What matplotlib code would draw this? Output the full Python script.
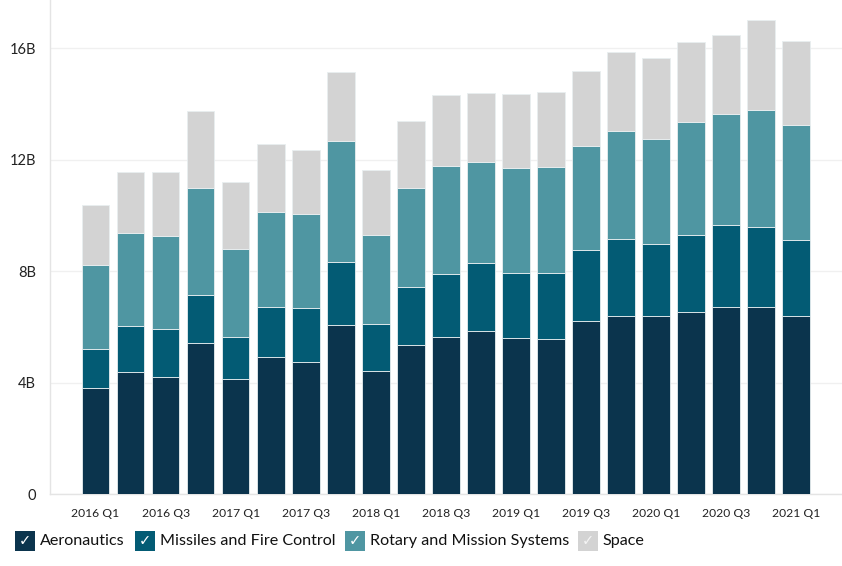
import matplotlib
matplotlib.use("Agg")
import matplotlib.pyplot as plt
from matplotlib.patches import Rectangle
import numpy as np

quarters = ["2016 Q1", "2016 Q2", "2016 Q3", "2016 Q4",
            "2017 Q1", "2017 Q2", "2017 Q3", "2017 Q4",
            "2018 Q1", "2018 Q2", "2018 Q3", "2018 Q4",
            "2019 Q1", "2019 Q2", "2019 Q3", "2019 Q4",
            "2020 Q1", "2020 Q2", "2020 Q3", "2020 Q4",
            "2021 Q1"]

aeronautics = [3.80, 4.38, 4.20, 5.42, 4.13, 4.94, 4.74, 6.06, 4.41, 5.35,
               5.65, 5.87, 5.60, 5.56, 6.21, 6.39, 6.39, 6.53, 6.71, 6.73, 6.39]
missiles = [1.42, 1.67, 1.73, 1.74, 1.52, 1.77, 1.93, 2.29, 1.69, 2.08,
            2.27, 2.44, 2.34, 2.39, 2.57, 2.77, 2.60, 2.78, 2.94, 2.85, 2.75]
rotary = [3.01, 3.32, 3.34, 3.82, 3.15, 3.42, 3.38, 4.34, 3.20, 3.55,
          3.85, 3.61, 3.77, 3.78, 3.72, 3.88, 3.75, 4.04, 4.00, 4.21, 4.11]
space = [2.14, 2.21, 2.28, 2.78, 2.42, 2.44, 2.29, 2.46, 2.34, 2.43,
         2.56, 2.50, 2.64, 2.70, 2.69, 2.84, 2.91, 2.88, 2.85, 3.25, 3.01]

series_names = ["Aeronautics", "Missiles and Fire Control",
                "Rotary and Mission Systems", "Space"]
colors = ["#0b344d", "#035b74", "#4f96a2", "#d3d3d3"]

ytick_vals = [0, 4, 8, 12, 16]
ytick_labels = ["0", "4B", "8B", "12B", "16B"]

W, H = 842, 566
fig = plt.figure(figsize=(W / 100, H / 100), dpi=100)
fig.patch.set_facecolor("white")

ax_left, ax_right, ax_top, ax_bottom = 50, 842, 0, 494.3
ax = fig.add_axes([ax_left / W, (H - ax_bottom) / H,
                   (ax_right - ax_left) / W, (ax_bottom - ax_top) / H])

x = np.arange(len(quarters))
bottom = np.zeros(len(quarters))
for vals, col in zip([aeronautics, missiles, rotary, space], colors):
    ax.bar(x, vals, bottom=bottom, width=0.79, color=col,
           edgecolor="#e8eef0", linewidth=0.6, zorder=3)
    bottom += np.array(vals)

ax.set_xlim(-1.30, 21.31)
ax.set_ylim(0, 17.74)

for s in ["top", "right"]:
    ax.spines[s].set_visible(False)
ax.spines["left"].set_color("#e4e4e4")
ax.spines["bottom"].set_color("#e4e4e4")
ax.spines["left"].set_linewidth(1)
ax.spines["bottom"].set_linewidth(1)

ax.set_yticks(ytick_vals)
ax.set_yticklabels(ytick_labels, fontsize=10.5, family="Lato", color="#222222")
ax.tick_params(axis="y", length=0, pad=10)
ax.yaxis.grid(True, color="#f0f0f0", linewidth=1, zorder=0)
ax.set_axisbelow(True)

ax.set_xticks(x[::2])
ax.set_xticklabels(quarters[::2], fontsize=8.7, family="Lato", color="#222222")
ax.tick_params(axis="x", length=0, pad=10)

# Legend (manual, in figure pixel coords)
legend_items = [(15, 39.5), (135, 159.5), (345, 369.5), (578, 602)]
for (bx, tx), name, col in zip(legend_items, series_names, colors):
    fig.patches.append(Rectangle((bx / W, (H - 551) / H), 20 / W, 20 / H,
                                 transform=fig.transFigure, facecolor=col,
                                 edgecolor="none"))
    chk_col = "white" if col != "#d3d3d3" else "#f4f4f4"
    fig.text((bx + 10) / W, (H - 541) / H, "\u2713", ha="center", va="center",
             fontsize=10.5, color=chk_col, family="DejaVu Sans")
    fig.text(tx / W, (H - 541) / H, name, ha="left", va="center",
             fontsize=11.6, family="Lato", color="#111111")

fig.savefig("out.png", dpi=100, facecolor="white")
